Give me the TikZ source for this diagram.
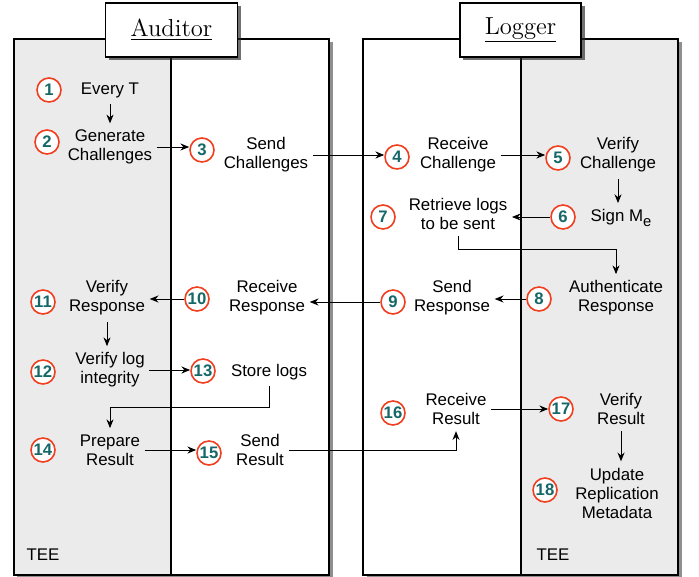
\documentclass[tikz,border=0pt]{standalone}
\usepackage{fontspec}
\newfontfamily\helv{Liberation Sans}
\usetikzlibrary{arrows.meta,shadows}
\definecolor{teeGray}{RGB}{235,235,235}
\definecolor{numRed}{RGB}{240,62,30}
\definecolor{numTeal}{RGB}{22,104,104}

\begin{document}
\begin{tikzpicture}[x=0.02cm, y=-0.02cm, >={Stealth[length=5pt,width=4pt]},
    numc/.style={circle, draw=numRed, line width=0.9pt, fill=white, minimum size=0.48cm, inner sep=0pt, text=numTeal, font=\helv\bfseries\fontsize{9.5}{10}\selectfont},
    lbl/.style={align=center, inner xsep=2.5pt, inner ysep=3.5pt, font=\helv\fontsize{9.6}{10.8}\selectfont},
    headbox/.style={draw, line width=0.8pt, fill=white, inner xsep=0.5cm, minimum height=1.08cm, font=\fontsize{14}{16}\selectfont, drop shadow={shadow xshift=0.07cm, shadow yshift=-0.07cm, fill=black!85, opacity=0.65}},
    lanebox/.style={fill=white, drop shadow={shadow xshift=0.07cm, shadow yshift=-0.07cm, fill=black!80, opacity=0.55}},
    flow/.style={->, line width=0.5pt}]
    \useasboundingbox (0,0) rectangle (699,577);

    % Lanes: Auditor (TEE on the left) and Logger (TEE on the right)
    \path[lanebox] (14,39) rectangle (329,575);
    \fill[teeGray] (14,39) rectangle (171,575);
    \draw[line width=0.6pt] (14,39) rectangle (329,575);
    \draw[line width=0.6pt] (171,39) -- (171,575);

    \path[lanebox] (363,39) rectangle (678,575);
    \fill[teeGray] (521,39) rectangle (678,575);
    \draw[line width=0.6pt] (363,39) rectangle (678,575);
    \draw[line width=0.6pt] (521,39) -- (521,575);

    \node[headbox] (auditor) at (171.5,30) {\underline{Auditor}};
    \node[headbox] (logger) at (520.5,30) {\underline{Logger}};

    \node[lbl] (teeA) at (43,555) {TEE};
    \node[lbl] (teeL) at (553,555) {TEE};

    % Step texts
    \foreach \n/\x/\y/\txt in {
        1/110/90/{Every T},
        2/110/147/{Generate\\Challenges},
        3/266/155/{Send\\Challenges},
        4/458/155/{Receive\\Challenge},
        5/618/155/{Verify\\Challenge},
        6/621/218/{Sign M\raisebox{-0.5ex}{\fontsize{8.4}{9}\selectfont e}},
        7/458/214/{Retrieve logs\\to be sent},
        8/616/298/{Authenticate\\Response},
        9/452/298/{Send\\Response},
        10/267/298/{Receive\\Response},
        11/107/298/{Verify\\Response},
        12/110/370/{Verify log\\integrity},
        13/269/372/{Store logs},
        14/110/450/{Prepare\\Result},
        15/260/450/{Send\\Result},
        16/456/409/{Receive\\Result},
        17/621/409/{Verify\\Result},
        18/617/493/{Update\\Replication\\Metadata}} {
        \node[lbl] (t\n) at (\x,\y) {\txt};
    }

    % Step numbers
    \foreach \n/\x/\y in {1/49/90, 2/47/142, 3/202/150, 4/397/157, 5/558/158,
        6/563/217, 7/383/217, 8/539/299, 9/393/302, 10/197/299, 11/43/302,
        12/43/372, 13/203/371, 14/43/450, 15/209/453, 16/393/413, 17/561/409,
        18/545/490} {
        \node[numc] (c\n) at (\x,\y) {\n};
    }

    % Flow of the protocol
    \draw[flow] (t1.south) -- (t1.south |- t2.north);
    \draw[flow] (t2.east) -- (t2.east -| c3.west);
    \draw[flow] (t3.east) -- (t3.east -| c4.west);
    \draw[flow] (t4.east) -- (t4.east -| c5.west);
    \draw[flow] (t5.south) -- (t5.south |- t6.north);
    \draw[flow] (c6.west) -- (c6.west -| t7.east);
    \draw[flow] (t7.south) -- ++(0,13) -| (t8.north);
    \draw[flow] (c8.west) -- (c8.west -| t9.east);
    \draw[flow] (c9.west) -- (c9.west -| t10.east);
    \draw[flow] (c10.west) -- (c10.west -| t11.east);
    \draw[flow] (t11.south) -- (t11.south |- t12.north);
    \draw[flow] (t12.east) -- (t12.east -| c13.west);
    \draw[flow] (t13.south) -- ++(0,21) -| (t14.north);
    \draw[flow] (t14.east) -- (t14.east -| c15.west);
    \draw[flow] (t15.east) -| (t16.south);
    \draw[flow] (t16.east) -- (t16.east -| c17.west);
    \draw[flow] (t17.south) -- (t17.south |- t18.north);
\end{tikzpicture}
\end{document}
